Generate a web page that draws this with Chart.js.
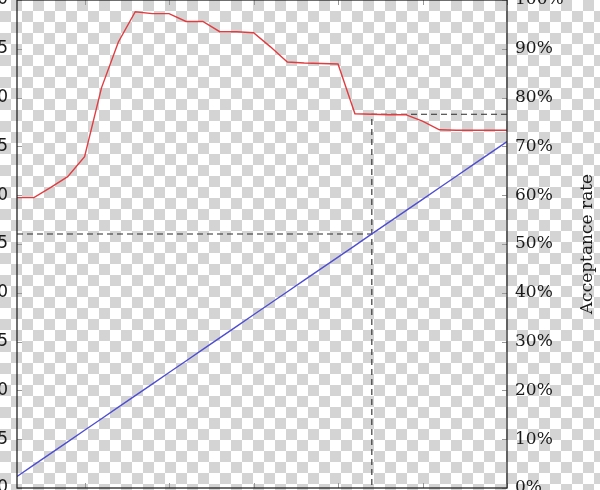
<!DOCTYPE html>
<html>
<head>
<meta charset="utf-8">
<script src="https://cdn.jsdelivr.net/npm/chart.js@4/dist/chart.umd.min.js"></script>
<style>
  html, body { margin:0; padding:0; width:600px; height:490px; overflow:hidden; }
  body {
    position:relative;
    background: repeating-conic-gradient(#d4d4d4 0% 25%, #ffffff 0% 50%) 0 0 / 22px 22px;
  }
  #wrap { position:absolute; left:-40px; top:-20px; width:640px; height:530px; }
</style>
</head>
<body>
<div id="wrap"><canvas id="c" width="640" height="530"></canvas></div>
<script>
// ---- data ----
const xValues = [1,2,3,4,5,6,7,8,9,10,11,12,13,14,15,16,17,18,19,20,21,22,23,24,25,26,27,28,29,30];
const acceptanceRate = [59.5,59.5,61.6,63.8,67.9,82.0,91.4,97.6,97.2,97.2,95.6,95.6,93.5,93.5,93.3,90.4,87.3,87.1,87.0,86.9,76.7,76.6,76.5,76.5,75.2,73.4,73.3,73.3,73.3,73.3];
const leftSeries = [1.18,2.37,3.55,4.73,5.92,7.10,8.28,9.47,10.65,11.83,13.01,14.20,15.38,16.56,17.75,18.93,20.11,21.30,22.48,23.66,24.84,26.03,27.21,28.39,29.58,30.76,31.94,33.13,34.31,35.49];
const xTickValues = [5,10,15,20,25,30];
const leftTickLabels = ['0','5','10','15','20','25','30','35','40','45','50'];
const rightTickLabels = ['0%','10%','20%','30%','40%','50%','60%','70%','80%','90%','100%'];
const markerIndex = 21;
const rightTitle = 'Acceptance rate';

const mx = xValues[markerIndex];
const redPts = xValues.map((x,i)=>({x, y: acceptanceRate[i]}));
const bluePts = xValues.map((x,i)=>({x, y: leftSeries[i]}));
const dashLeft = [{x: xValues[0], y: leftSeries[markerIndex]}, {x: mx, y: leftSeries[markerIndex]}];
const dashRight = [{x: xValues[xValues.length-1], y: acceptanceRate[markerIndex]}, {x: mx, y: acceptanceRate[markerIndex]}, {x: mx, y: 0}];

const frame = {
  id: 'frame',
  afterDatasetsDraw(chart) {
    const {ctx, chartArea: a, scales} = chart;
    ctx.save();
    ctx.strokeStyle = '#999';
    ctx.lineWidth = 1;
    ctx.beginPath();
    scales.yL.ticks.forEach(t => { const y = Math.round(scales.yL.getPixelForValue(t.value))+0.5; ctx.moveTo(a.left, y); ctx.lineTo(a.left+5, y); });
    scales.yR.ticks.forEach(t => { const y = Math.round(scales.yR.getPixelForValue(t.value))+0.5; ctx.moveTo(a.right-5, y); ctx.lineTo(a.right, y); });
    xTickValues.forEach(v => { const x = Math.round(scales.x.getPixelForValue(v))+0.5; ctx.moveTo(x, a.top); ctx.lineTo(x, a.top+5); ctx.moveTo(x, a.bottom); ctx.lineTo(x, a.bottom-5); });
    ctx.stroke();
    ctx.strokeStyle = '#222';
    ctx.lineWidth = 1.3;
    ctx.strokeRect(a.left, a.top, a.right-a.left, a.bottom-a.top);
    ctx.restore();
  },
  afterDraw(chart) {
    const {ctx, chartArea: a} = chart;
    ctx.save();
    ctx.fillStyle = '#1a1a1a';
    ctx.font = '17px "DejaVu Serif"';
    ctx.textAlign = 'center';
    ctx.textBaseline = 'middle';
    ctx.translate(628, (a.top + a.bottom)/2);
    ctx.rotate(-Math.PI/2);
    ctx.fillText(rightTitle, 0, 0);
    ctx.restore();
  }
};

new Chart(document.getElementById('c'), {
  type: 'line',
  data: {
    datasets: [
      { data: redPts, yAxisID: 'yR', borderColor: 'rgb(226,60,64)', borderWidth: 1.4, pointRadius: 0, tension: 0, fill: false },
      { data: bluePts, yAxisID: 'yL', borderColor: 'rgb(78,78,212)', borderWidth: 1.4, pointRadius: 0, tension: 0, fill: false },
      { data: dashLeft, yAxisID: 'yL', borderColor: '#2a2a2a', borderWidth: 1.1, borderDash: [6,4], pointRadius: 0, tension: 0, fill: false },
      { data: dashRight, yAxisID: 'yR', borderColor: '#2a2a2a', borderWidth: 1.1, borderDash: [6,4], pointRadius: 0, tension: 0, fill: false }
    ]
  },
  options: {
    responsive: false,
    animation: false,
    devicePixelRatio: 1,
    layout: { padding: { top: 20, left: 0, right: 0, bottom: 0 } },
    plugins: { legend: { display: false }, tooltip: { enabled: false } },
    scales: {
      x: {
        type: 'linear', min: 1, max: 30,
        grid: { display: false, drawTicks: false }, border: { display: false },
        ticks: { display: false },
        afterFit(s) { s.height = 22; }
      },
      yL: {
        type: 'linear', position: 'left', min: 0, max: 50,
        grid: { display: false, drawTicks: false }, border: { display: false },
        ticks: { stepSize: 5, padding: 9, color: '#1a1a1a', font: { family: '"DejaVu Sans"', size: 17 },
                 callback: (v, i) => leftTickLabels[i] },
        afterFit(s) { s.width = 57; }
      },
      yR: {
        type: 'linear', position: 'right', min: 0, max: 100,
        grid: { display: false, drawTicks: false }, border: { display: false },
        ticks: { stepSize: 10, padding: 8, color: '#1a1a1a', font: { family: '"DejaVu Serif"', size: 17 },
                 callback: (v, i) => rightTickLabels[i] },
        afterFit(s) { s.width = 93; }
      }
    }
  },
  plugins: [frame]
});
</script>
</body>
</html>
